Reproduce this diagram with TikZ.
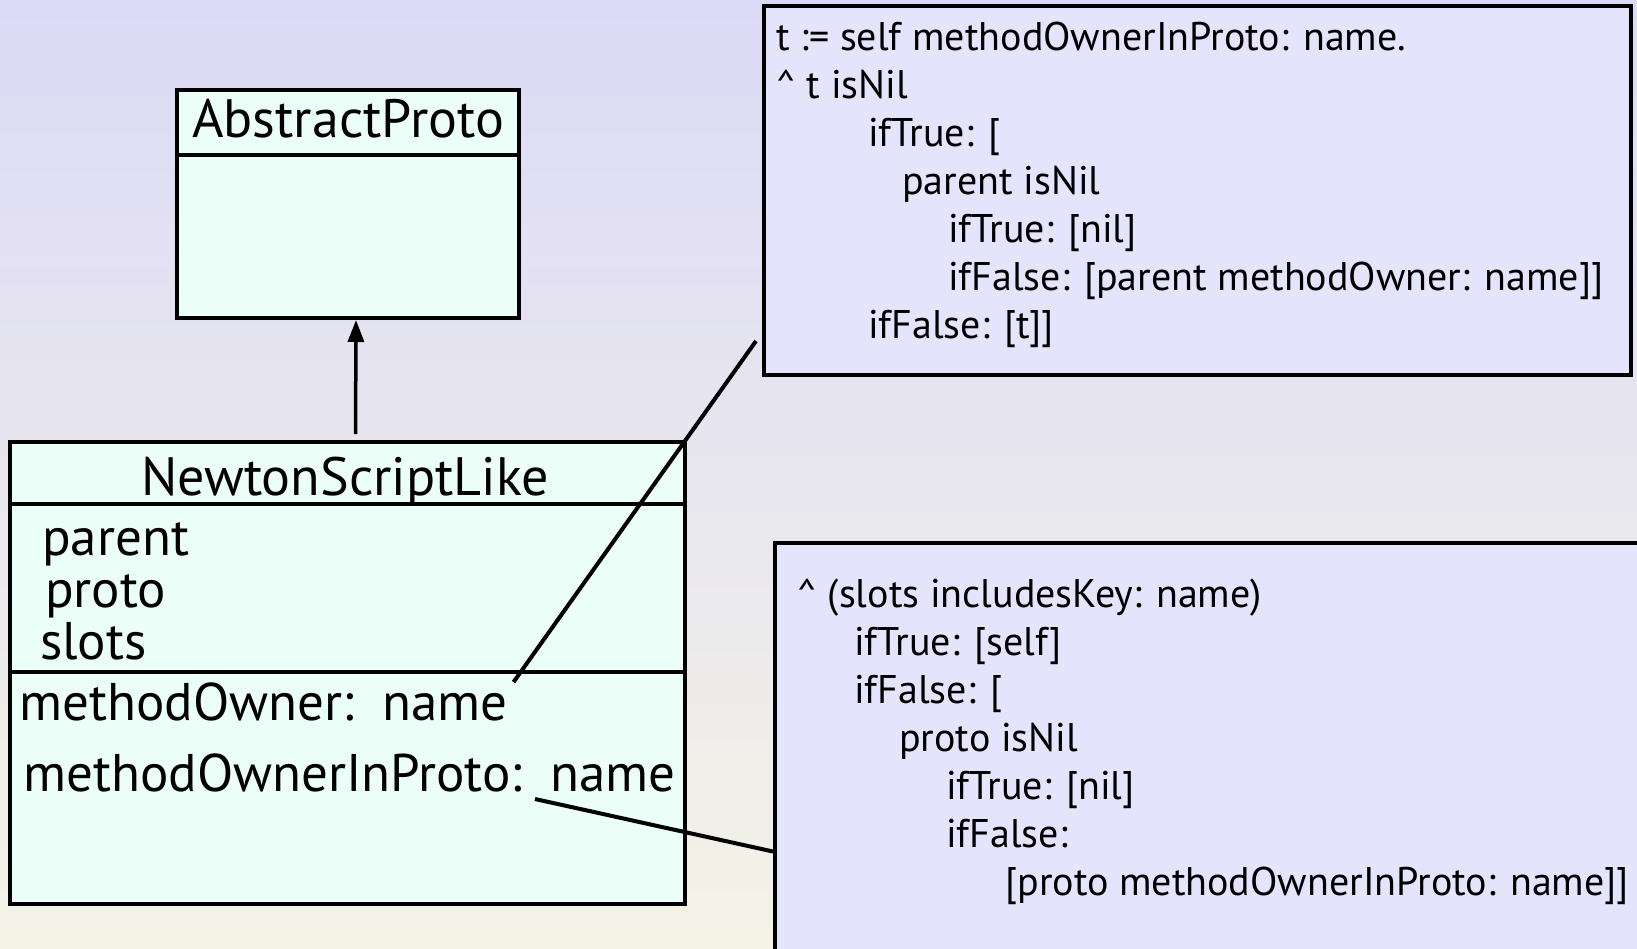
\documentclass[tikz,border=0pt]{standalone}
\usepackage{fontspec}
\setmainfont{PT Sans}
\usetikzlibrary{arrows.meta, positioning}
\definecolor{bgtop}{RGB}{220,218,246}
\definecolor{bgbot}{RGB}{244,243,230}
\definecolor{classfill}{RGB}{235,255,248}
\definecolor{notefill}{RGB}{228,228,252}

\tikzset{
  classbox/.style={draw, line width=4pt, fill=classfill, inner sep=0pt},
  notebox/.style={draw, line width=4pt, fill=notefill, inner sep=0pt},
  classname/.style={font=\fontsize{54}{60}\selectfont, anchor=base, inner sep=0pt},
  member/.style={font=\fontsize{53}{60}\selectfont, anchor=base west, inner sep=0pt},
  code/.style={font=\fontsize{40}{48}\selectfont, align=left, inner sep=0pt},
  link/.style={line width=4pt},
}

\begin{document}
\begin{tikzpicture}[x=1pt, y=-1pt]
  \useasboundingbox (0,0) rectangle (1637,948);
  \clip (0,0) rectangle (1637,948);
  \shade[top color=bgtop, bottom color=bgbot] (0,0) rectangle (1637,948);

  % superclass
  \node[classbox, minimum width=342pt, minimum height=228pt] (ap) at (348,204) {};
  \draw[link] ([yshift=-67pt]ap.north west) -- ([yshift=-67pt]ap.north east);
  \node[classname] (apname) at (348,137) {AbstractProto};

  % subclass
  \node[classbox, minimum width=675pt, minimum height=462pt] (nsl) at (347.5,673) {};
  \draw[link] ([yshift=-64pt]nsl.north west) -- ([yshift=-64pt]nsl.north east);
  \draw[link] ([yshift=-232pt]nsl.north west) -- ([yshift=-232pt]nsl.north east);
  \node[classname] (nslname) at (345,495) {NewtonScriptLike};
  \node[member] (parent) at (42,555) {parent};
  \node[member] (proto) at (45,607) {proto};
  \node[member] (slots) at (40,659) {slots};
  \node[member] (mo) at (19,720) {methodOwner:~~name};
  \node[member] (mio) at (23,791) {methodOwnerInProto:~~name};

  \draw[line width=3.5pt, -{Triangle[length=22pt, width=16pt]}, shorten <=6pt]
    ([xshift=8pt]nsl.north) -- ([xshift=8pt]ap.south);

  % method notes
  \node[notebox, minimum width=867pt, minimum height=369pt] (notetop) at (1197.5,190.5) {};
  \node[code, below right=18pt and 14pt of notetop.north west] (codetop) {%
    t := self methodOwnerInProto: name.\\
    \^{} t isNil\\
    \hspace*{92pt}ifTrue: [\\
    \hspace*{126pt}parent isNil\\
    \hspace*{172pt}ifTrue: [nil]\\
    \hspace*{172pt}ifFalse: [parent methodOwner: name]]\\
    \hspace*{92pt}ifFalse: [t]]};

  \node[notebox, minimum width=885pt, minimum height=457pt] (notebot) at (1217.5,771.5) {};
  \node[code, below right=38pt and 24pt of notebot.north west] (codebot) {%
    \^{} (slots includesKey: name)\\
    \hspace*{57pt}ifTrue: [self]\\
    \hspace*{57pt}ifFalse: [\\
    \hspace*{102pt}proto isNil\\
    \hspace*{149pt}ifTrue: [nil]\\
    \hspace*{149pt}ifFalse:\\
    \hspace*{208pt}[proto methodOwnerInProto: name]]};

  % connectors from the methods to their code
  \coordinate (inprotoAt) at (535,799);
  \draw[link] ([xshift=6pt]mo.north east) -- ([xshift=-6pt, yshift=36pt]notetop.south west);
  \draw[link] (inprotoAt) -- ([yshift=-80pt]notebot.west);
\end{tikzpicture}
\end{document}
